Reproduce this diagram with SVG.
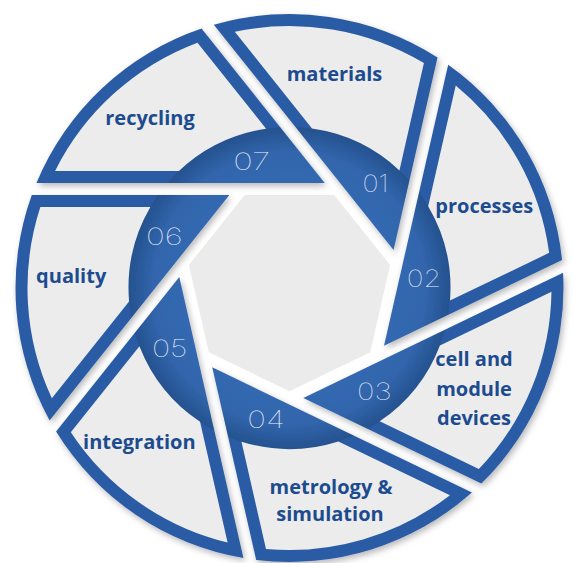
<svg xmlns="http://www.w3.org/2000/svg" width="574" height="563" viewBox="0 0 574 563">
<style>
.label{font-family:"Open Sans","Noto Sans",sans-serif;font-weight:700;font-size:20px;fill:#1c4b8f;text-anchor:middle}
.num{font-family:Inter,"DejaVu Sans",sans-serif;font-weight:100;font-size:24px;fill:#eef3fa;text-anchor:middle}
.panel{fill:#ececec}
.blade{fill:url(#bladeFill)}
</style>
<defs>
<radialGradient id="bladeFill" gradientUnits="userSpaceOnUse" cx="289.5" cy="288" r="274">
<stop offset="0.38" stop-color="#3468b0"/>
<stop offset="0.50" stop-color="#3165ac"/>
<stop offset="0.585" stop-color="#25528f"/>
<stop offset="0.59" stop-color="#2c5ca6"/>
<stop offset="1" stop-color="#2c5ca6"/>
</radialGradient>
<path id="bladeShape" d="M36.42,183 L324.72,183 L201.52,28.51 A274,274 0 0 0 36.42,183 Z"/>
<path id="panelShape" d="M178.90,171 L55.07,171 A262,262 0 0 1 197.48,42.70 L266.08,128.72 A161,161 0 0 0 178.90,171 Z"/>
<filter id="shadow" x="-20%" y="-20%" width="140%" height="140%">
<feDropShadow dx="2" dy="3" stdDeviation="3" flood-color="#000" flood-opacity="0.28"/>
</filter>
</defs>
<rect width="574" height="563" fill="#fff"/>
<g id="center">
<polygon points="244.71,195 334.29,195 390.13,265.03 370.20,352.36 289.5,391.22 208.80,352.36 188.87,265.03" fill="#ebebeb"/>
</g>
<g id="connectors"/>
<g id="node-07">
<g filter="url(#shadow)"><use href="#bladeShape" class="blade"/></g>
<use href="#panelShape" class="panel"/>
<text class="num" x="251.7" y="169.5" textLength="37" lengthAdjust="spacingAndGlyphs">07</text>
<text class="label" x="150" y="124.5">recycling</text>
</g>
<g id="node-01">
<g filter="url(#shadow)"><use href="#bladeShape" class="blade" transform="rotate(51.4286 289.5 288)"/></g>
<use href="#panelShape" class="panel" transform="rotate(51.4286 289.5 288)"/>
<text class="num" x="375.5" y="192.4" textLength="26" lengthAdjust="spacingAndGlyphs">01</text>
<text class="label" x="334.5" y="81">materials</text>
</g>
<g id="node-02">
<g filter="url(#shadow)"><use href="#bladeShape" class="blade" transform="rotate(102.857 289.5 288)"/></g>
<use href="#panelShape" class="panel" transform="rotate(102.857 289.5 288)"/>
<text class="num" x="424" y="286.7" textLength="34.5" lengthAdjust="spacingAndGlyphs">02</text>
<text class="label" x="484.3" y="213.3">processes</text>
</g>
<g id="node-03">
<g filter="url(#shadow)"><use href="#bladeShape" class="blade" transform="rotate(154.286 289.5 288)"/></g>
<use href="#panelShape" class="panel" transform="rotate(154.286 289.5 288)"/>
<text class="num" x="374.3" y="399.5" textLength="34.6" lengthAdjust="spacingAndGlyphs">03</text>
<text class="label" x="474" y="366">cell and</text>
<text class="label" x="474" y="396">module</text>
<text class="label" x="474" y="425">devices</text>
</g>
<g id="node-04">
<g filter="url(#shadow)"><use href="#bladeShape" class="blade" transform="rotate(205.714 289.5 288)"/></g>
<use href="#panelShape" class="panel" transform="rotate(205.714 289.5 288)"/>
<text class="num" x="266" y="427.6" textLength="37.4" lengthAdjust="spacingAndGlyphs">04</text>
<text class="label" x="331" y="493.7">metrology &amp;</text>
<text class="label" x="330" y="521.4">simulation</text>
</g>
<g id="node-05">
<g filter="url(#shadow)"><use href="#bladeShape" class="blade" transform="rotate(257.143 289.5 288)"/></g>
<use href="#panelShape" class="panel" transform="rotate(257.143 289.5 288)"/>
<text class="num" x="169.7" y="356.7" textLength="35.5" lengthAdjust="spacingAndGlyphs">05</text>
<text class="label" x="139.3" y="448.8">integration</text>
</g>
<g id="node-06">
<g filter="url(#shadow)"><use href="#bladeShape" class="blade" transform="rotate(308.571 289.5 288)"/></g>
<use href="#panelShape" class="panel" transform="rotate(308.571 289.5 288)"/>
<text class="num" x="164.3" y="245.2" textLength="36.7" lengthAdjust="spacingAndGlyphs">06</text>
<text class="label" x="71.2" y="283">quality</text>
</g>
</svg>
